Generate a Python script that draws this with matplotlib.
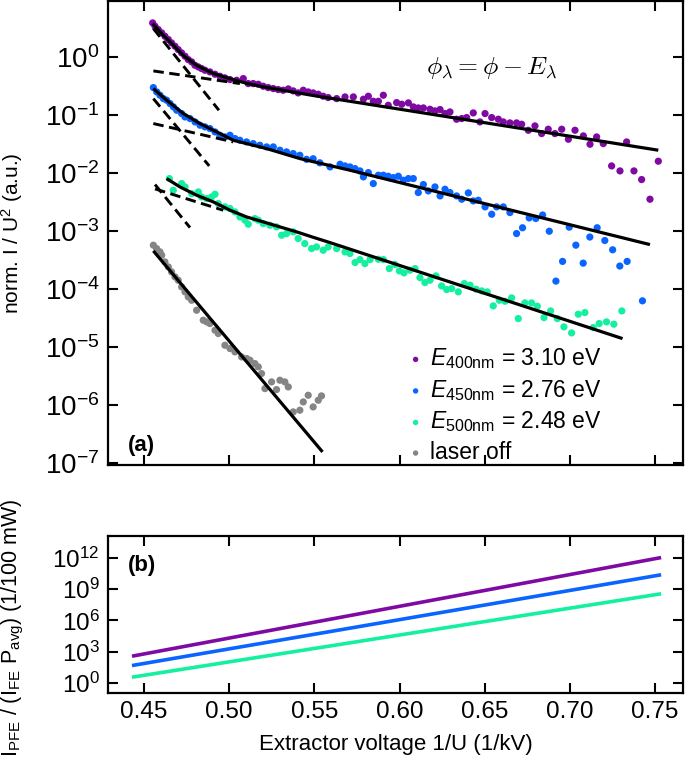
import numpy as np
import matplotlib
matplotlib.use("Agg")
import matplotlib.pyplot as plt

plt.rcParams['font.family'] = ['Liberation Sans', 'DejaVu Sans']
plt.rcParams['mathtext.fontset'] = 'custom'
plt.rcParams['mathtext.rm'] = 'Liberation Sans'
plt.rcParams['mathtext.it'] = 'Liberation Sans:italic'
plt.rcParams['mathtext.bf'] = 'Liberation Sans:bold'

# ---------------- data ----------------
# measured points, panel (a): x = 1/U (1/kV), y given as log10(norm. I/U^2)
purple_x = [0.4551, 0.4565, 0.4584, 0.4604, 0.4623, 0.4643, 0.4662, 0.4682, 0.4701, 0.4721,
            0.4741, 0.4760, 0.4780, 0.4799, 0.4819, 0.4838, 0.4858, 0.4887, 0.4917, 0.4946,
            0.4975, 0.5005, 0.5044, 0.5083, 0.5112, 0.5141, 0.5171, 0.5200, 0.5229, 0.5259,
            0.5288, 0.5317, 0.5347, 0.5376, 0.5405, 0.5435, 0.5464, 0.5493, 0.5523, 0.5552,
            0.5581,
            0.5631, 0.5680, 0.5729, 0.5788, 0.5817, 0.5846, 0.5876, 0.5905, 0.5934, 0.5983,
            0.6013, 0.6052, 0.6081, 0.6110, 0.6140, 0.6179, 0.6208, 0.6238, 0.6267, 0.6296,
            0.6335, 0.6365, 0.6394, 0.6433, 0.6472, 0.6502, 0.6541, 0.6580, 0.6609, 0.6648,
            0.6687, 0.6717, 0.6756, 0.6795, 0.6834, 0.6873, 0.6912, 0.6952, 0.6991, 0.7030,
            0.7079, 0.7118, 0.7157, 0.7196, 0.7245, 0.7294, 0.7333, 0.7376, 0.7421, 0.7470,
            0.7519]
purple_log = [0.592, 0.534, 0.477, 0.420, 0.362, 0.305, 0.247, 0.190, 0.132, 0.075,
              0.017, -0.040, -0.080, -0.138, -0.167, -0.195, -0.224, -0.253, -0.293, -0.328,
              -0.356, -0.385, -0.397, -0.368, -0.454, -0.454, -0.466, -0.500, -0.523, -0.540,
              -0.557, -0.569, -0.546, -0.580, -0.615, -0.569, -0.598, -0.615, -0.638, -0.672,
              -0.695,
              -0.713, -0.684, -0.684, -0.724, -0.672, -0.759, -0.759, -0.655, -0.828, -0.782,
              -0.810, -0.787, -0.856, -0.874, -0.874, -0.897, -0.925, -0.902, -0.971, -0.943,
              -1.069, -1.057, -1.040, -0.960, -1.115, -0.971, -1.040, -1.069, -1.115, -1.132,
              -1.132, -1.155, -1.259, -1.184, -1.316, -1.241, -1.316, -1.241, -1.414, -1.259,
              -1.356, -1.500, -1.374, -1.489, -1.874, -1.960, -1.460, -1.960, -2.109, -2.448,
              -1.793]

blue_x = [0.4555, 0.4575, 0.4594, 0.4614, 0.4633, 0.4653, 0.4673, 0.4692, 0.4721, 0.4741,
          0.4770, 0.4800, 0.4829, 0.4858, 0.4887, 0.4917, 0.4946, 0.4976, 0.5005, 0.5034,
          0.5063, 0.5102, 0.5141, 0.5180, 0.5220, 0.5259, 0.5298, 0.5337, 0.5376, 0.5415,
          0.5454, 0.5493, 0.5532,
          0.5592, 0.5651, 0.5680, 0.5709, 0.5739, 0.5768, 0.5788, 0.5817, 0.5846, 0.5876,
          0.5905, 0.5934, 0.5964, 0.5993, 0.6022, 0.6052, 0.6081, 0.6110, 0.6140, 0.6169,
          0.6208, 0.6238, 0.6267, 0.6296, 0.6335, 0.6365, 0.6404, 0.6433, 0.6462, 0.6502,
          0.6541, 0.6570, 0.6609, 0.6648, 0.6687, 0.6722, 0.6761, 0.6800, 0.6840, 0.6879,
          0.6918, 0.6957, 0.6996, 0.7035, 0.7078, 0.7117, 0.7160, 0.7205, 0.7251, 0.7293,
          0.7336, 0.7426]
blue_log = [-0.523, -0.598, -0.655, -0.713, -0.741, -0.799, -0.856, -0.914, -0.971, -1.029,
            -1.057, -1.115, -1.172, -1.201, -1.230, -1.287, -1.345, -1.374, -1.345, -1.402,
            -1.431, -1.460, -1.489, -1.517, -1.546, -1.546, -1.603, -1.632, -1.661, -1.690,
            -1.760, -1.750, -1.820,
            -1.891, -1.845, -1.874, -1.891, -1.920, -1.960, -2.063, -1.989, -2.178, -2.034,
            -2.034, -2.052, -2.075, -2.052, -2.121, -2.092, -2.092, -2.333, -2.195, -2.305,
            -2.236, -2.391, -2.276, -2.333, -2.391, -2.448, -2.339, -2.477, -2.466, -2.580,
            -2.707, -2.580, -2.580, -2.678, -3.040, -2.940, -2.770, -2.780, -2.720, -3.000,
            -3.860, -3.520, -2.930, -3.240, -3.550, -3.100, -2.940, -3.160, -3.320, -3.600,
            -3.520, -4.200]

green_x = [0.4649, 0.4672, 0.4721, 0.4741, 0.4780, 0.4819, 0.4838, 0.4868, 0.4897, 0.4917,
           0.4936, 0.4975, 0.5005, 0.5034, 0.5063, 0.5093, 0.5112, 0.5151, 0.5171, 0.5200,
           0.5239, 0.5278, 0.5308, 0.5337, 0.5376, 0.5405, 0.5444, 0.5484, 0.5513, 0.5552,
           0.5581,
           0.5631, 0.5680, 0.5709, 0.5739, 0.5768, 0.5797, 0.5827, 0.5876, 0.5905, 0.5940,
           0.5973, 0.5999, 0.6026, 0.6061, 0.6091, 0.6120, 0.6149, 0.6179, 0.6214, 0.6247,
           0.6277, 0.6306, 0.6345, 0.6380, 0.6414, 0.6449, 0.6482, 0.6515, 0.6550, 0.6586,
           0.6619, 0.6658, 0.6697, 0.6736, 0.6775, 0.6809, 0.6848, 0.6887, 0.6926, 0.6965,
           0.7010, 0.7049, 0.7088, 0.7137, 0.7172, 0.7215, 0.7258, 0.7305]
green_log = [-2.092, -2.293, -2.178, -2.236, -2.351, -2.322, -2.408, -2.437, -2.408, -2.362,
             -2.523, -2.580, -2.609, -2.667, -2.753, -2.810, -2.879, -2.782, -2.810, -2.868,
             -2.897, -2.925, -3.069, -3.040, -3.011, -3.126, -3.213, -3.299, -3.270, -3.328,
             -3.270,
             -3.299, -3.356, -3.385, -3.540, -3.489, -3.558, -3.489, -3.483, -3.489, -3.644,
             -3.575, -3.684, -3.718, -3.672, -3.644, -3.799, -3.885, -3.845, -3.770, -3.943,
             -4.006, -3.989, -4.046, -3.902, -3.931, -4.000, -4.029, -4.046, -4.287, -4.190,
             -4.207, -4.149, -4.506, -4.236, -4.236, -4.293, -4.489, -4.374, -4.506, -4.649,
             -4.753, -4.431, -4.402, -4.661, -4.592, -4.563, -4.603, -4.374]

gray_x = [0.4555, 0.4574, 0.4594, 0.4604, 0.4623, 0.4643, 0.4662, 0.4682, 0.4701, 0.4721,
          0.4741, 0.4760, 0.4780, 0.4809, 0.4848, 0.4868, 0.4887, 0.4917, 0.4936, 0.4975,
          0.5005, 0.5034, 0.5073, 0.5103, 0.5122, 0.5151, 0.5171, 0.5190, 0.5210, 0.5249,
          0.5278, 0.5298, 0.5327, 0.5347, 0.5376, 0.5415, 0.5435, 0.5464, 0.5493, 0.5523,
          0.5542]
gray_log = [-3.241, -3.299, -3.356, -3.414, -3.529, -3.615, -3.701, -3.787, -3.845, -3.960,
            -4.046, -4.132, -4.190, -4.362, -4.534, -4.563, -4.592, -4.707, -4.764, -4.966,
            -5.023, -5.080, -5.167, -5.195, -5.224, -5.282, -5.339, -5.454, -5.713, -5.598,
            -5.730, -5.569, -5.598, -5.684, -6.115, -6.086, -5.943, -5.828, -6.029, -5.914,
            -5.839]

# fit curves (solid)
purple_fit_x = [0.4551, 0.4613, 0.4672, 0.4731, 0.4809, 0.4907, 0.5005, 0.5103, 0.5200,
                0.5298, 0.5396, 0.5494, 0.5592, 0.7519]
purple_fit_log = [0.58, 0.38, 0.21, 0.03, -0.14, -0.28, -0.37, -0.45, -0.51,
                  -0.56, -0.61, -0.66, -0.705, -1.603]
blue_fit_x = [0.4555, 0.4633, 0.4731, 0.4829, 0.4926, 0.5024, 0.5220, 0.5415, 0.5709, 0.7470]
blue_fit_log = [-0.54, -0.741, -0.971, -1.144, -1.287, -1.431, -1.575, -1.747, -1.948, -3.23]
green_fit_x = [0.4633, 0.4711, 0.4809, 0.4907, 0.5005, 0.5102, 0.5200, 0.5298, 0.5396,
               0.5494, 0.5591, 0.7309]
green_fit_log = [-2.092, -2.236, -2.379, -2.494, -2.638, -2.753, -2.839, -2.925, -3.011,
                 -3.105, -3.195, -4.851]
gray_fit_x = [0.4555, 0.5548]
gray_fit_log = [-3.339, -6.805]

# dashed single-exponential components (start / end)
purple_steep_x, purple_steep_log = [0.4555, 0.4940], [0.494, -0.914]
purple_flat_x, purple_flat_log = [0.4555, 0.5063], [-0.236, -0.454]
blue_steep_x, blue_steep_log = [0.4555, 0.4883], [-0.713, -1.874]
blue_flat_x, blue_flat_log = [0.4555, 0.5024], [-1.143, -1.460]
green_steep_x, green_steep_log = [0.4565, 0.4770], [-2.195, -2.937]
green_flat_x, green_flat_log = [0.4565, 0.4965], [-2.270, -2.638]

# panel (b): I_PFE/(I_FE P_avg) lines, log10 values at start / end
b_x = [0.444, 0.7525]
b_purple_log = [2.60, 12.0]
b_blue_log = [1.70, 10.35]
b_green_log = [0.58, 8.53]

labels = [r'$E_{\mathregular{400nm}}$ = 3.10 eV',
          r'$E_{\mathregular{450nm}}$ = 2.76 eV',
          r'$E_{\mathregular{500nm}}$ = 2.48 eV',
          'laser off']
c_purple, c_blue, c_green, c_gray = '#7e0aa3', '#0a64ff', '#14f0a0', '#858585'

# ---------------- figure ----------------
fig = plt.figure(figsize=(6.85, 7.59), dpi=100)
ax = fig.add_axes([0.1577, 0.3874, 0.8394, 0.6113])
bx = fig.add_axes([0.1577, 0.0870, 0.8394, 0.2068])

def p(v):
    return 10.0 ** np.asarray(v)

ms = 27
for xs, ls, c, lab in [(purple_x, purple_log, c_purple, labels[0]),
                        (blue_x, blue_log, c_blue, labels[1]),
                        (green_x, green_log, c_green, labels[2]),
                        (gray_x, gray_log, c_gray, labels[3])]:
    ax.scatter(xs, p(ls), s=ms, color=c, edgecolors='none', label=lab, zorder=2)

for fx, fl in [(purple_fit_x, purple_fit_log), (blue_fit_x, blue_fit_log),
               (green_fit_x, green_fit_log), (gray_fit_x, gray_fit_log)]:
    ax.plot(fx, p(fl), color='black', lw=2.3, zorder=3, solid_capstyle='butt')

for dx, dl in [(purple_steep_x, purple_steep_log), (purple_flat_x, purple_flat_log),
               (blue_steep_x, blue_steep_log), (blue_flat_x, blue_flat_log),
               (green_steep_x, green_steep_log), (green_flat_x, green_flat_log)]:
    ax.plot(dx, p(dl), color='black', lw=2.1, dashes=(3.6, 1.9), zorder=3)

ax.set_yscale('log')
ax.set_xlim(0.4289, 0.7664)
ax.set_ylim(10 ** -7.03, 10 ** 0.97)
ax.set_yticks([10.0 ** k for k in range(-7, 1)])
ax.yaxis.set_minor_locator(matplotlib.ticker.NullLocator())
ax.set_xticks([0.45, 0.50, 0.55, 0.60, 0.65, 0.70, 0.75])
ax.tick_params(labelbottom=False)
ax.set_ylabel(r'norm. I / U$^{\mathregular{2}}$ (a.u.)', fontsize=15)
ax.yaxis.set_label_coords(-0.145, 0.5)

ax.text(0.668, 0.856, r'$\phi_\lambda = \phi - E_\lambda$', transform=ax.transAxes,
        fontsize=18.5, math_fontfamily='cm', ha='center', va='center')
ax.text(0.035, 0.043, '(a)', transform=ax.transAxes, fontsize=16, fontweight='bold',
        ha='left', va='center')

leg = ax.legend(loc='upper left', bbox_to_anchor=(0.515, 0.2555), frameon=False,
                fontsize=16.5, handletextpad=0.15, labelspacing=0.29, markerscale=0.75,
                borderaxespad=0.0, borderpad=0.0, handlelength=1.0)

bx.plot(b_x, p(b_purple_log), color=c_purple, lw=2.6)
bx.plot(b_x, p(b_blue_log), color=c_blue, lw=2.6)
bx.plot(b_x, p(b_green_log), color=c_green, lw=2.6)
bx.set_yscale('log')
bx.set_xlim(0.4289, 0.7664)
bx.set_ylim(10 ** -0.96, 10 ** 14.1)
bx.set_yticks([1e0, 1e3, 1e6, 1e9, 1e12])
bx.yaxis.set_minor_locator(matplotlib.ticker.NullLocator())
bx.set_xticks([0.45, 0.50, 0.55, 0.60, 0.65, 0.70, 0.75])
bx.xaxis.set_major_formatter(matplotlib.ticker.FormatStrFormatter('%.2f'))
bx.set_xlabel('Extractor voltage 1/U (1/kV)', fontsize=16)
bx.xaxis.set_label_coords(0.5, -0.262)
bx.set_ylabel(r'$\mathregular{I_{PFE}}$ / ($\mathregular{I_{FE}}$ $\mathregular{P_{avg}}$) (1/100 mW)',
              fontsize=15.5)
bx.yaxis.set_label_coords(-0.143, 0.414)
bx.text(0.035, 0.809, '(b)', transform=bx.transAxes, fontsize=16, fontweight='bold',
        ha='left', va='center')

for a, lsz in [(ax, 20), (bx, 17.5)]:
    for s in a.spines.values():
        s.set_linewidth(1.6)
    a.tick_params(which='both', direction='in', top=True, right=True, length=7, width=1.5,
                  labelsize=lsz, pad=6)

fig.savefig('out.png', dpi=100)
